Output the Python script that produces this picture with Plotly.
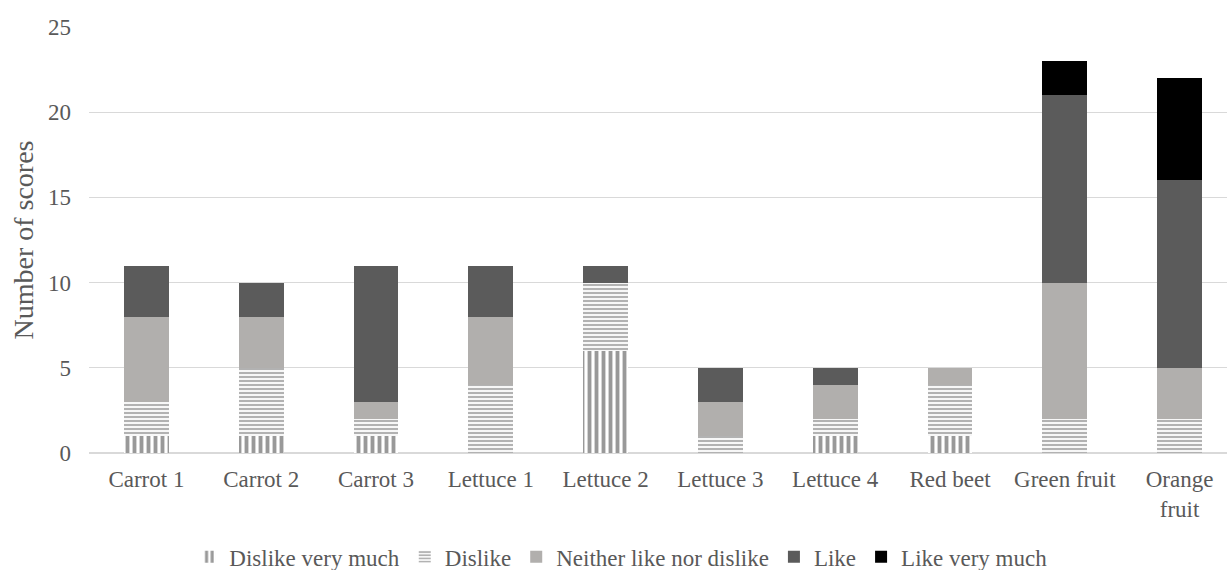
import plotly.graph_objects as go

categories = ["Carrot 1", "Carrot 2", "Carrot 3", "Lettuce 1", "Lettuce 2",
              "Lettuce 3", "Lettuce 4", "Red beet", "Green fruit", "Orange<br>fruit"]

dislike_very_much = [1, 1, 1, 0, 6, 0, 1, 1, 0, 0]
dislike = [2, 4, 1, 4, 4, 1, 1, 3, 2, 2]
neither = [5, 3, 1, 4, 0, 2, 2, 1, 8, 3]
like = [3, 2, 8, 3, 1, 2, 1, 0, 11, 11]
like_very_much = [0, 0, 0, 0, 0, 0, 0, 0, 2, 6]

y_ticks = [0, 5, 10, 15, 20, 25]

FONT = "Liberation Serif"
TEXT = "#595959"

series = [
    ("Dislike very much", dislike_very_much,
     dict(color="white", pattern=dict(shape="|", fgcolor="#333333", bgcolor="white", size=7, solidity=0.55))),
    ("Dislike", dislike,
     dict(color="white", pattern=dict(shape="-", fgcolor="#666666", bgcolor="white", size=4, solidity=0.55))),
    ("Neither like nor dislike", neither, dict(color="#b1afad")),
    ("Like", like, dict(color="#5b5b5b")),
    ("Like very much", like_very_much, dict(color="#000000")),
]

fig = go.Figure()
for name, vals, marker in series:
    marker = dict(marker)
    marker["line"] = dict(width=0)
    fig.add_trace(go.Bar(name=name, x=categories, y=vals, marker=marker, width=0.39))

fig.update_layout(
    barmode="stack",
    width=1227, height=570,
    margin=dict(l=89, r=0, t=27, b=117, autoexpand=False),
    paper_bgcolor="white", plot_bgcolor="white",
    font=dict(family=FONT, size=23, color=TEXT),
    legend=dict(orientation="h", x=0.506, xanchor="center", xref="container",
                y=0.023, yanchor="middle", yref="container",
                font=dict(family=FONT, size=23, color=TEXT), traceorder="normal",
                itemwidth=30),
    xaxis=dict(range=[-0.5, 9.413], showgrid=False, showline=False, ticks="",
               ticklabelstandoff=10,
               tickfont=dict(family=FONT, size=23, color=TEXT)),
    yaxis=dict(range=[0, 25], tickvals=y_ticks, showgrid=True, gridcolor="#d9d9d9",
               gridwidth=1, zeroline=True, zerolinecolor="#d9d9d9", ticks="",
               ticklen=0, ticklabelstandoff=17,
               tickfont=dict(family=FONT, size=23, color=TEXT),
               title=dict(text="Number of scores", standoff=6,
                          font=dict(family=FONT, size=28, color=TEXT))),
)

fig.write_html("out.html")
